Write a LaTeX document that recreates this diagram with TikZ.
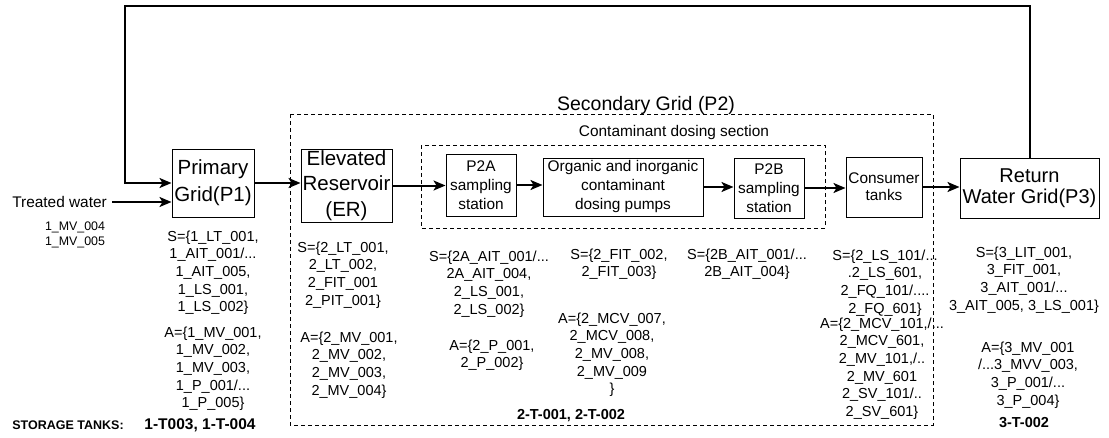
\documentclass[tikz,border=0pt]{standalone}
\usepackage{fontspec}
\setmainfont{Liberation Sans}
\usepackage{tikz}
\usetikzlibrary{arrows.meta, positioning}
\newcommand{\fsz}[2]{\fontsize{#1}{#2}\selectfont}

\begin{document}
\begin{tikzpicture}[x=1pt, y=-1pt,
  block/.style={draw, line width=1pt, align=center, inner sep=0pt},
  bigfont/.style={font=\fsz{20.5}{27}},
  midfont/.style={font=\fsz{15.4}{19}},
  flow/.style={line width=2pt, -{Stealth[length=12pt, width=10pt, inset=3pt]}},
  group/.style={draw, line width=0.8pt, dash pattern=on 4pt off 3pt},
  lbl/.style={align=center, inner sep=0pt, anchor=north, font=\fsz{14.5}{17.6}},
  tanks/.style={inner sep=0pt, font=\bfseries\fsz{14.5}{17}}]
  \useasboundingbox (0,0) rectangle (1109,437);

  \draw[group] (290,114) rectangle (933,425);
  \draw[group] (421,145) rectangle (825,228);
  \node[font=\fsz{19.5}{22}, anchor=base] (p2t) at (646,110) {Secondary Grid (P2)};
  \node[font=\fsz{15.4}{18}, anchor=base] (cdt) at (674,136) {Contaminant dosing section};

  \node[block, bigfont, minimum width=82, minimum height=68] (p1) at (213,183) {Primary\\Grid(P1)};
  \node[block, font=\fsz{20.5}{25.5}, minimum width=91, minimum height=73] (er) at (346.5,185.5) {Elevated\\Reservoir\\(ER)};
  \node[block, midfont, minimum width=70, minimum height=62] (p2a) at (481,185) {P2A\\sampling\\station};
  \node[block, midfont, minimum width=160, minimum height=58] (org) at (623,187) {Organic and inorganic\\contaminant\\dosing pumps};
  \node[block, midfont, minimum width=70, minimum height=60] (p2b) at (769,188) {P2B\\sampling\\station};
  \node[block, font=\fsz{15.4}{17}, minimum width=76, minimum height=60] (cons) at (884,187) {Consumer\\tanks};
  \node[block, font=\fsz{20}{21}, minimum width=139, minimum height=60] (ret) at (1029.5,188) {Return\\Water Grid(P3)};

  \node[midfont, inner sep=0pt, anchor=east] (tw) at (107,202) {Treated water};
  \coordinate (loopL) at (125,6);

  \draw[flow] ([xshift=5pt]tw.east) -- (tw.east -| p1.west);
  \draw[flow] (ret.north) |- (loopL) |- (p1.west);
  \draw[flow] (p1.east) -- (p1.east -| er.west);
  \draw[flow] (er.east) -- (er.east -| p2a.west);
  \draw[flow] (p2a.east) -- (p2a.east -| org.west);
  \draw[flow] (org.east) -- (org.east -| p2b.west);
  \draw[flow] (p2b.east) -- (p2b.east -| cons.west);
  \draw[flow] (cons.east) -- (cons.east -| ret.west);

  \node[lbl, font=\fsz{12.4}{15}] (twv) at (75,222) {1\_MV\_004\\1\_MV\_005};
  \node[lbl] (p1s) at (213,230.5) {S=\{1\_LT\_001,\\1\_AIT\_001/...\\1\_AIT\_005,\\1\_LS\_001,\\1\_LS\_002\}};
  \node[lbl] (p1a) at (213,326.5) {A=\{1\_MV\_001,\\1\_MV\_002,\\1\_MV\_003,\\1\_P\_001/...\\1\_P\_005\}};
  \node[lbl] (ers) at (343,241.5) {S=\{2\_LT\_001,\\2\_LT\_002,\\2\_FIT\_001\\2\_PIT\_001\}};
  \node[lbl] (era) at (349,331.5) {A=\{2\_MV\_001,\\2\_MV\_002,\\2\_MV\_003,\\2\_MV\_004\}};
  \node[lbl] (p2as) at (489,250.5) {S=\{2A\_AIT\_001/...\\2A\_AIT\_004,\\2\_LS\_001,\\2\_LS\_002\}};
  \node[lbl] (p2aa) at (492,339.5) {A=\{2\_P\_001,\\2\_P\_002\}};
  \node[lbl] (orgs) at (619,248.5) {S=\{2\_FIT\_002,\\2\_FIT\_003\}};
  \node[lbl] (orga) at (612,312.5) {A=\{2\_MCV\_007,\\2\_MCV\_008,\\2\_MV\_008,\\2\_MV\_009\\\}};
  \node[lbl] (p2bs) at (747,248.5) {S=\{2B\_AIT\_001/...\\2B\_AIT\_004\}};
  \node[lbl] (conss) at (885,249.5) {S=\{2\_LS\_101/...\\.2\_LS\_601,\\2\_FQ\_101/....\\2\_FQ\_601\}};
  \node[lbl] (consa) at (882,317.5) {A=\{2\_MCV\_101,/...\\2\_MCV\_601,\\2\_MV\_101,/..\\2\_MV\_601\\2\_SV\_101/..\\2\_SV\_601\}};
  \node[lbl] (rets) at (1024,246.5) {S=\{3\_LIT\_001,\\3\_FIT\_001,\\3\_AIT\_001/...\\3\_AIT\_005, 3\_LS\_001\}};
  \node[lbl] (reta) at (1028,341.5) {A=\{3\_MV\_001\\/...3\_MVV\_003,\\3\_P\_001/...\\3\_P\_004\}};

  \node[tanks, font=\bfseries\fsz{12.5}{15}] (st) at (68,425) {STORAGE TANKS:};
  \node[tanks, font=\bfseries\fsz{15.5}{17}] (t1) at (200,425) {1-T003, 1-T-004};
  \node[tanks] (t2) at (571,416) {2-T-001, 2-T-002};
  \node[tanks] (t3) at (1024,423) {3-T-002};
\end{tikzpicture}
\end{document}
